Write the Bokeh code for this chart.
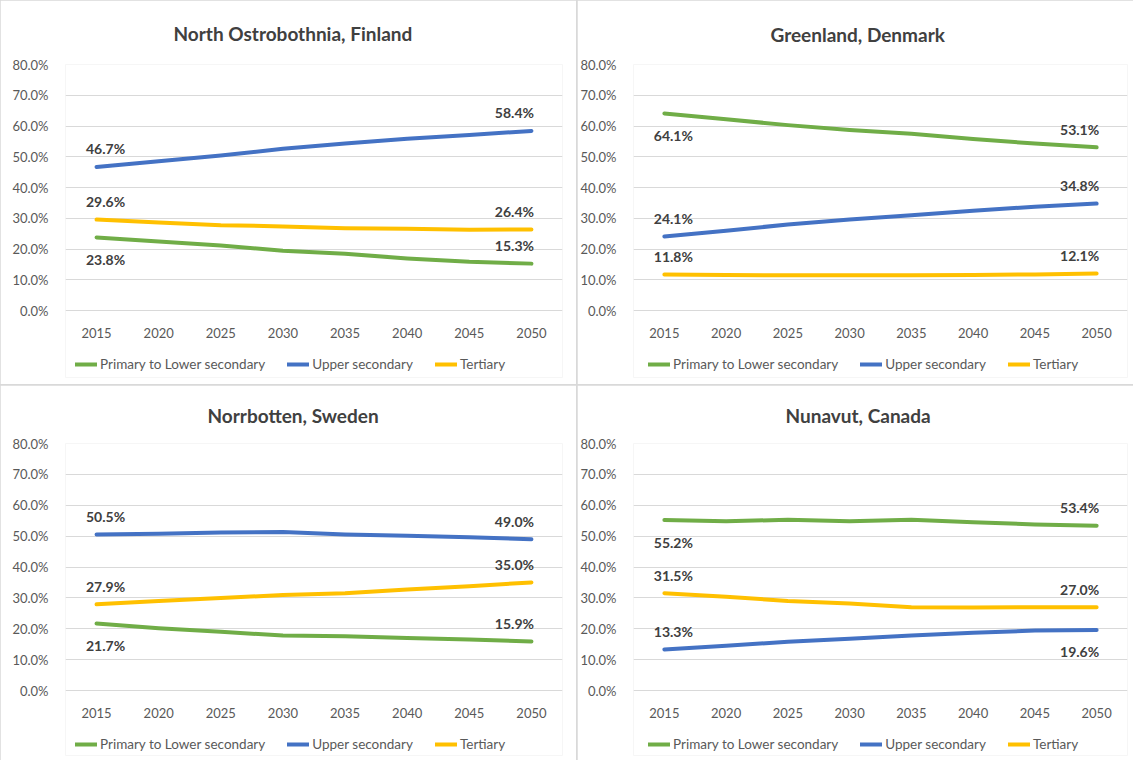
from bokeh.plotting import figure
from bokeh.models import Legend, LegendItem, PrintfTickFormatter, FactorRange, Range1d, FixedTicker
from bokeh.layouts import row, column
from bokeh.embed import file_html
from bokeh.resources import INLINE
from bokeh.core.properties import value

years = ["2015", "2020", "2025", "2030", "2035", "2040", "2045", "2050"]
series_names = ["Primary to Lower secondary", "Upper secondary", "Tertiary"]
series_colors = ["#70AD47", "#4472C4", "#FFC000"]
y_ticks = [0, 10, 20, 30, 40, 50, 60, 70, 80]

# North Ostrobothnia, Finland
no_primary = [23.8, 22.5, 21.2, 19.5, 18.5, 17.0, 15.9, 15.3]
no_upper = [46.7, 48.6, 50.4, 52.6, 54.3, 55.9, 57.1, 58.4]
no_tertiary = [29.6, 28.7, 27.8, 27.4, 26.8, 26.6, 26.3, 26.4]

# Greenland, Denmark
gl_primary = [64.1, 62.2, 60.3, 58.7, 57.5, 55.8, 54.3, 53.1]
gl_upper = [24.1, 26.0, 28.0, 29.6, 31.0, 32.5, 33.8, 34.8]
gl_tertiary = [11.8, 11.6, 11.5, 11.5, 11.5, 11.6, 11.8, 12.1]

# Norrbotten, Sweden
nb_primary = [21.7, 20.2, 19.0, 17.8, 17.6, 17.0, 16.5, 15.9]
nb_upper = [50.5, 50.8, 51.2, 51.3, 50.5, 50.1, 49.6, 49.0]
nb_tertiary = [27.9, 29.0, 30.0, 30.9, 31.5, 32.7, 33.8, 35.0]

# Nunavut, Canada
nu_primary = [55.2, 54.8, 55.3, 54.8, 55.3, 54.5, 53.8, 53.4]
nu_upper = [13.3, 14.5, 15.8, 16.8, 17.8, 18.7, 19.4, 19.6]
nu_tertiary = [31.5, 30.4, 29.0, 28.2, 27.0, 26.9, 27.0, 27.0]

FONT = "Lato"
TEXT_DARK = "#404040"
TICK_COL = "#595959"
GRID_COL = "#D9D9D9"

panels = [
    dict(title="North Ostrobothnia, Finland", data=[no_primary, no_upper, no_tertiary],
         place=[("below", "above"), ("above", "above"), ("above", "above")]),
    dict(title="Greenland, Denmark", data=[gl_primary, gl_upper, gl_tertiary],
         place=[("below", "above"), ("above", "above"), ("above", "above")]),
    dict(title="Norrbotten, Sweden", data=[nb_primary, nb_upper, nb_tertiary],
         place=[("below", "above"), ("above", "above"), ("above", "above")]),
    dict(title="Nunavut, Canada", data=[nu_primary, nu_upper, nu_tertiary],
         place=[("below", "above"), ("above", "below"), ("above", "above")]),
]


def make_panel(panel, width, height, b_left, b_right, b_top, b_bottom,
               y_low, title_offset, title_standoff, legend_loc):
    p = figure(x_range=FactorRange(*years), y_range=Range1d(y_low, 80),
               width=width, height=height, output_backend="svg", toolbar_location=None,
               min_border_left=b_left, min_border_right=b_right,
               min_border_top=b_top, min_border_bottom=b_bottom,
               title=panel["title"])
    p.title.align = "left"
    p.title.offset = title_offset
    p.title.standoff = title_standoff
    p.title.text_font = FONT
    p.title.text_font_size = "19px"
    p.title.text_font_style = "bold"
    p.title.text_color = TEXT_DARK
    p.outline_line_color = None

    p.xgrid.visible = False
    p.ygrid.grid_line_color = GRID_COL
    p.ygrid.grid_line_width = 1
    p.ygrid.ticker = FixedTicker(ticks=y_ticks)

    p.yaxis.ticker = FixedTicker(ticks=y_ticks)
    p.yaxis.formatter = PrintfTickFormatter(format="%.1f%%")
    p.xaxis.fixed_location = 0
    for ax in (p.xaxis[0], p.yaxis[0]):
        ax.axis_line_color = None
        ax.major_tick_line_color = None
        ax.minor_tick_line_color = None
        ax.major_label_text_font = FONT
        ax.major_label_text_font_size = "13px"
        ax.major_label_text_color = TICK_COL
    p.yaxis.major_label_standoff = 11
    p.xaxis.major_label_standoff = 11

    items = []
    for name, color, vals, (pos0, pos1) in zip(series_names, series_colors, panel["data"], panel["place"]):
        r = p.line(x=years, y=vals, line_color=color, line_width=4, line_cap="round", line_join="round")
        items.append(LegendItem(label=name, renderers=[r]))
        for idx, pos, xo in ((0, pos0, 9), (len(years) - 1, pos1, -17)):
            p.text(x=[years[idx]], y=[vals[idx]], text=[f"{vals[idx]:.1f}%"],
                   x_offset=xo, y_offset=(-18 if pos == "above" else 22),
                   text_align="center", text_baseline="middle",
                   text_font=value(FONT), text_font_size="14px", text_font_style="bold",
                   text_color=TEXT_DARK)

    legend = Legend(items=items, orientation="horizontal", location=legend_loc,
                    border_line_color=None, background_fill_alpha=0,
                    label_text_font=FONT, label_text_font_size="13.5px",
                    label_text_color=TICK_COL, glyph_width=22, glyph_height=16,
                    label_height=16, label_standoff=3, spacing=22, padding=2, margin=0)
    p.add_layout(legend, "center")
    return p


p1 = make_panel(panels[0], 576, 384, 65, 14, 64, 6, -21.7, 108, 39, (10, 5))
p2 = make_panel(panels[1], 556, 384, 51, 6, 63, 7, -21.7, 137, 38, (15, 5))
p3 = make_panel(panels[2], 576, 375, 65, 14, 58, 5, -21.05, 142, 33, (10, 3))
p4 = make_panel(panels[3], 556, 375, 51, 6, 58, 5, -21.05, 152, 33, (15, 3))

layout = column(row(p1, p2, spacing=1), row(p3, p4, spacing=1), spacing=1,
                styles={"background-color": GRID_COL})

open("out.html", "w").write(file_html(layout, INLINE))
